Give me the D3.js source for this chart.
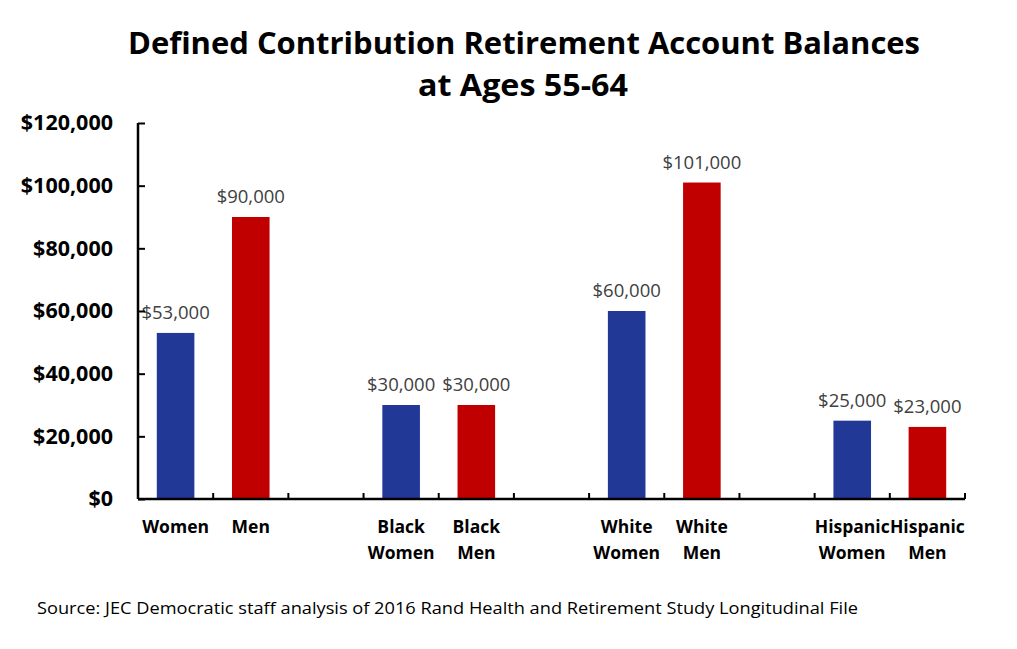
<!DOCTYPE html>
<html>
<head>
<meta charset="utf-8">
<script src="https://cdn.jsdelivr.net/npm/d3@7"></script>
<style>
  body { margin: 0; background: #fff; }
  text { font-family: "Open Sans", sans-serif; }
</style>
</head>
<body>
<script>
// bars, with blank slots between the groups
const labels = ["Women", "Men", "", "Black Women", "Black Men", "", "White Women", "White Men", "", "Hispanic Women", "Hispanic Men"];
const values = [53000, 90000, null, 30000, 30000, null, 60000, 101000, null, 25000, 23000];
const yTicks = [0, 20000, 40000, 60000, 80000, 100000, 120000];
const titleLines = ["Defined Contribution Retirement Account Balances", "at Ages 55-64"];
const source = "Source: JEC Democratic staff analysis of 2016 Rand Health and Retirement Study Longitudinal File";

const blue = "#213897", red = "#c00000";

var svgWidth = 1017, svgHeight = 649;
var margin = { top: 123, right: 52, bottom: 150, left: 138 };
var chartWidth = svgWidth - margin.left - margin.right;
var chartHeight = svgHeight - margin.top - margin.bottom;

var svg = d3.select("body").append("svg")
  .attr("width", svgWidth)
  .attr("height", svgHeight);

svg.append("rect").attr("width", svgWidth).attr("height", svgHeight).attr("fill", "#fff");

// title
svg.append("text")
  .attr("x", 524).attr("y", 54)
  .attr("text-anchor", "middle")
  .attr("textLength", 792).attr("lengthAdjust", "spacingAndGlyphs")
  .style("font-size", "31px").style("font-weight", "bold")
  .text(titleLines[0]);
svg.append("text")
  .attr("x", 523).attr("y", 96)
  .attr("text-anchor", "middle")
  .attr("textLength", 210).attr("lengthAdjust", "spacingAndGlyphs")
  .style("font-size", "31px").style("font-weight", "bold")
  .text(titleLines[1]);

var chartGroup = svg.append("g")
  .attr("transform", `translate(${margin.left}, ${margin.top})`);

var xScale = d3.scaleBand()
  .domain(d3.range(labels.length))
  .range([0, chartWidth])
  .paddingInner(0.5)
  .paddingOuter(0.25);

var yScale = d3.scaleLinear()
  .domain([0, 120000])
  .range([chartHeight, 0]);

// bars
var data = labels.map((l, i) => ({ i: i, label: l, value: values[i] })).filter(d => d.value != null);

chartGroup.selectAll(".bar")
  .data(data)
  .enter()
  .append("rect")
  .attr("class", "bar")
  .attr("x", d => xScale(d.i))
  .attr("y", d => yScale(d.value))
  .attr("width", xScale.bandwidth())
  .attr("height", d => chartHeight - yScale(d.value))
  .attr("fill", d => /Women$/.test(d.label) ? blue : red);

chartGroup.selectAll(".val")
  .data(data)
  .enter()
  .append("text")
  .attr("class", "val")
  .attr("x", d => xScale(d.i) + xScale.bandwidth() / 2)
  .attr("y", d => yScale(d.value) - 14)
  .attr("text-anchor", "middle")
  .attr("fill", "#404040")
  .style("font-size", "18.5px")
  .style("font-weight", "500")
  .text(d => "$" + d3.format(",")(d.value));

// y axis
var leftAxis = d3.axisLeft(yScale)
  .tickValues(yTicks)
  .tickSize(-7)
  .tickPadding(25)
  .tickFormat(d => "$" + d3.format(",")(d));

var yAxisG = chartGroup.append("g").call(leftAxis);
yAxisG.select(".domain").remove();
yAxisG.selectAll("line").attr("stroke", "#000").attr("stroke-width", 2);
yAxisG.selectAll("text")
  .attr("fill", "#000")
  .style("font-size", "21.5px").style("font-weight", "bold")
  .style("font-family", "'Open Sans', sans-serif");

chartGroup.append("line")
  .attr("x1", 0).attr("x2", 0)
  .attr("y1", 0).attr("y2", chartHeight)
  .attr("stroke", "#000").attr("stroke-width", 2.5);

// x axis with ticks on the slot boundaries
var step = xScale.step();
var bounds = d3.range(labels.length + 1).map(k => k * step);

chartGroup.append("line")
  .attr("x1", 0).attr("x2", chartWidth)
  .attr("y1", chartHeight).attr("y2", chartHeight)
  .attr("stroke", "#000").attr("stroke-width", 2.5);

chartGroup.selectAll(".xtick")
  .data(bounds.slice(1))
  .enter()
  .append("line")
  .attr("class", "xtick")
  .attr("x1", d => d).attr("x2", d => d)
  .attr("y1", chartHeight).attr("y2", chartHeight - 6)
  .attr("stroke", "#000").attr("stroke-width", 2);

// category labels
var xLab = chartGroup.selectAll(".xlab")
  .data(data)
  .enter()
  .append("text")
  .attr("class", "xlab")
  .attr("text-anchor", "middle")
  .attr("fill", "#000")
  .style("font-size", "17.5px").style("font-weight", "bold")
  .attr("transform", d => `translate(${xScale(d.i) + xScale.bandwidth() / 2}, ${chartHeight + 34})`);

xLab.selectAll("tspan")
  .data(d => d.label.split(" "))
  .enter()
  .append("tspan")
  .attr("x", 0)
  .attr("dy", (d, k) => k === 0 ? 0 : 26)
  .text(d => d);

// source note
svg.append("text")
  .attr("x", 37).attr("y", 614)
  .attr("textLength", 821).attr("lengthAdjust", "spacingAndGlyphs")
  .style("font-size", "16px")
  .text(source);
</script>
</body>
</html>
